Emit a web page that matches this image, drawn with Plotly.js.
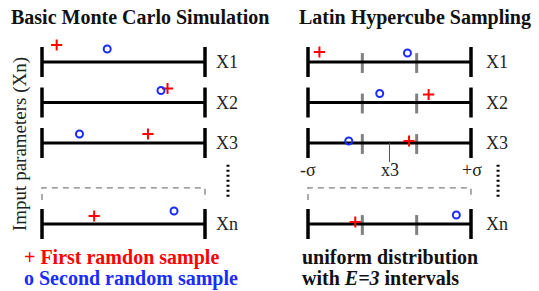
<!DOCTYPE html>
<html>
<head>
<meta charset="utf-8">
<script src="https://cdn.plot.ly/plotly-3.0.1.min.js"></script>
<style>html,body{margin:0;padding:0;background:#fff;}#chart{width:539px;height:291px;}</style>
</head>
<body>
<div id="chart"></div>
<script>
// ---- data ----
const params = ['X1', 'X2', 'X3', 'Xn'];
const rowIndex = [0, 1, 2, 4];            // Xn sits after the "......" gap
// sample positions as a fraction of the [-σ, +σ] range
const mcFirst   = [0.09, 0.77, 0.65, 0.32];
const mcSecond  = [0.40, 0.73, 0.23, 0.81];
const lhsFirst  = [0.07, 0.74, 0.62, 0.29];
const lhsSecond = [0.61, 0.44, 0.25, 0.91];
const intervals = 3;                       // E = 3
const titles = ['Basic Monte Carlo Simulation', 'Latin Hypercube Sampling'];

// ---- styling ----
const ROW = 40.5;                          // px per row
const liftMCFirst = [17, 14, 9, 8], liftMCSecond = [13, 12, 9, 13];
const liftLHSFirst = [10, 8, 2, 2], liftLHSSecond = [9, 9, 2, 9];
const RED = '#ff0000', BLUE = '#1a2cff', GREY = '#808080';
const serif = '"Liberation Serif", "Times New Roman", serif';

function lift(px) { return px / ROW; }

function panelTraces(ax, first, second, lf, ls, withTicks) {
  const tr = [];
  const hx = [], hy = [], cx = [], cy = [], tx = [], ty = [];
  rowIndex.forEach(r => {
    hx.push(0, 1, null); hy.push(r, r, null);
    cx.push(0, 0, null, 1, 1, null); cy.push(r - 0.37, r + 0.37, null, r - 0.37, r + 0.37, null);
    if (withTicks) {
      for (let k = 1; k < intervals; k++) {
        tx.push(k / intervals, k / intervals, null); ty.push(r - 0.22, r + 0.27, null);
      }
    }
  });
  if (withTicks) tr.push({x: tx, y: ty, xaxis: ax, mode: 'lines', line: {color: GREY, width: 3}, hoverinfo: 'skip'});
  tr.push({x: hx, y: hy, xaxis: ax, mode: 'lines', line: {color: '#000', width: 3}, hoverinfo: 'skip'});
  tr.push({x: cx, y: cy, xaxis: ax, mode: 'lines', line: {color: '#000', width: 3.5}, hoverinfo: 'skip'});
  // dashed box above Xn
  tr.push({x: [0, 0, 1, 1], y: [3.41, 3.11, 3.11, 3.41], xaxis: ax, mode: 'lines',
           line: {color: GREY, width: 1.3, dash: '6px,5px'}, hoverinfo: 'skip'});
  // vertical dotted "......"
  const dx = withTicks ? 1.166 : 1.141;
  tr.push({x: [dx, dx], y: [2.54, 3.36], xaxis: ax, mode: 'lines',
           line: {color: '#000', width: 3, dash: '2px,3px'}, hoverinfo: 'skip'});
  tr.push({x: first, y: rowIndex.map((r, i) => r - lift(lf[i])), xaxis: ax, mode: 'markers',
           marker: {symbol: 'cross-thin', size: 8, line: {color: RED, width: 2}}, hoverinfo: 'skip'});
  tr.push({x: second, y: rowIndex.map((r, i) => r - lift(ls[i])), xaxis: ax, mode: 'markers',
           marker: {symbol: 'circle-open', size: 7, color: BLUE, line: {color: BLUE, width: 2}}, hoverinfo: 'skip'});
  return tr;
}

const traces = [
  ...panelTraces('x', mcFirst, mcSecond, liftMCFirst, liftMCSecond, false),
  ...panelTraces('x2', lhsFirst, lhsSecond, liftLHSFirst, liftLHSSecond, true),
  {x: [0.5, 0.5], y: [2, 2.47], xaxis: 'x2', mode: 'lines', line: {color: '#555', width: 1}, hoverinfo: 'skip'}
];

const ann = [];
params.forEach((p, i) => {
  ann.push({x: 1.055, y: rowIndex[i], xref: 'x', yref: 'y', text: p, showarrow: false, xanchor: 'left', yanchor: 'middle',
            font: {family: serif, size: 18, color: '#222'}});
  ann.push({x: 1.08, y: rowIndex[i], xref: 'x2', yref: 'y', text: p, showarrow: false, xanchor: 'left', yanchor: 'middle',
            font: {family: serif, size: 18, color: '#222'}});
});
[['-σ', 0], ['x3', 0.5], ['+σ', 1.006]].forEach(([t, x]) => {
  ann.push({x: x, y: 2.667, xref: 'x2', yref: 'y', text: t, showarrow: false, xanchor: 'center', yanchor: 'middle',
            font: {family: serif, size: 18, color: '#222'}});
});
const bold = (t, x, y, c) => ({x: x / 539, y: 1 - y / 291, xref: 'paper', yref: 'paper', text: '<b>' + t + '</b>',
  showarrow: false, xanchor: 'left', yanchor: 'middle', font: {family: serif, size: 20, color: c}});
ann.push(bold(titles[0], 9, 17, '#111'));
ann.push(bold(titles[1], 297, 17, '#111'));
ann.push(bold('+ First ramdon sample', 22, 257, RED));
ann.push(bold('o Second random sample', 22, 278, BLUE));
ann.push(bold('uniform distribution', 300, 257, '#111'));
ann.push(bold('with <i>E=3</i> intervals', 300, 278, '#111'));
ann.push({x: 20 / 539, y: 1 - 144 / 291, xref: 'paper', yref: 'paper', text: 'Imput parameters (Xn)', textangle: -90,
          showarrow: false, xanchor: 'center', yanchor: 'middle', font: {family: serif, size: 19, color: '#222'}});

const layout = {
  width: 539, height: 291, margin: {l: 0, r: 0, t: 0, b: 0},
  paper_bgcolor: '#fff', plot_bgcolor: '#fff', showlegend: false,
  xaxis: {range: [-42 / 163, 497 / 163], visible: false, fixedrange: true},
  xaxis2: {range: [-308 / 163, 231 / 163], visible: false, overlaying: 'x', fixedrange: true},
  yaxis: {range: [(291 - 62) / ROW, -62 / ROW], visible: false, fixedrange: true},
  annotations: ann
};

Plotly.newPlot('chart', traces, layout, {staticPlot: true, displayModeBar: false});
</script>
</body>
</html>
